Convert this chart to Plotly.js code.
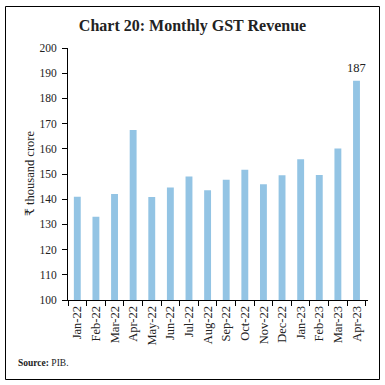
<!DOCTYPE html>
<html>
<head>
<meta charset="utf-8">
<script src="https://cdn.plot.ly/plotly-3.0.1.min.js"></script>
<style>
html,body{margin:0;padding:0;background:#fff;}
#chart{width:385px;height:385px;}
</style>
</head>
<body>
<div id="chart"></div>
<script>
const months = ["Jan-22","Feb-22","Mar-22","Apr-22","May-22","Jun-22","Jul-22","Aug-22","Sep-22","Oct-22","Nov-22","Dec-22","Jan-23","Feb-23","Mar-23","Apr-23"];
const revenue = [141.0,133.0,142.1,167.5,140.9,144.6,149.0,143.6,147.7,151.7,145.9,149.5,155.9,149.6,160.1,187.0];
const highlightIndex = 15;
const highlightLabel = "187";
const yTitle = "₹ thousand crore";

const serif = "Liberation Serif, DejaVu Serif, serif";

const trace = {
  type: "bar",
  x: months,
  y: revenue,
  marker: {color: "#93C4E4"},
  hoverinfo: "skip"
};

const layout = {
  width: 385, height: 385,
  margin: {l: 68, r: 17, t: 48, b: 85},
  paper_bgcolor: "#fff", plot_bgcolor: "#fff",
  bargap: 0.63,
  showlegend: false,
  font: {family: serif, color: "#222"},
  title: {
    text: "<b>Chart 20: Monthly GST Revenue</b>",
    font: {family: serif, size: 16, color: "#222"},
    x: 0.5, xanchor: "center", y: 0.935, yanchor: "middle"
  },
  xaxis: {
    type: "category",
    showline: true, linecolor: "#000", linewidth: 1,
    ticks: "outside", ticklen: 5, tickcolor: "#000",
    tickson: "boundaries",
    tickangle: -90,
    tickfont: {family: serif, size: 12.5, color: "#222"},
    showgrid: false, zeroline: false
  },
  yaxis: {
    range: [100, 200],
    dtick: 10,
    showline: true, linecolor: "#000", linewidth: 1,
    ticks: "outside", ticklen: 5, tickcolor: "#000",
    ticklabelstandoff: 3,
    tickfont: {family: serif, size: 11.5, color: "#222"},
    showgrid: false, zeroline: false
  },
  annotations: [
    {
      x: months[highlightIndex], y: revenue[highlightIndex],
      xref: "x", yref: "y",
      text: highlightLabel, showarrow: false,
      yanchor: "bottom", yshift: 4,
      font: {family: serif, size: 12.5, color: "#222"}
    },
    {
      x: (30 - 68) / 300, y: 0.5, xref: "paper", yref: "paper",
      xanchor: "center", yanchor: "middle", textangle: -90,
      text: yTitle, showarrow: false,
      font: {family: serif, size: 12.5, color: "#222"}
    },
    {
      x: -0.173, y: -0.25, xref: "paper", yref: "paper",
      xanchor: "left", yanchor: "middle",
      text: "<b>Source:</b> PIB.", showarrow: false,
      font: {family: serif, size: 9.5, color: "#222"}
    }
  ],
  shapes: [
    {
      type: "rect", xref: "paper", yref: "paper",
      x0: (5.5 - 68) / 300, x1: (379.5 - 68) / 300,
      y0: (300 - 379.5) / 252, y1: (300 - 6.5) / 252,
      line: {color: "#000", width: 1}, fillcolor: "rgba(0,0,0,0)"
    }
  ]
};

Plotly.newPlot("chart", [trace], layout, {staticPlot: true, displayModeBar: false});
</script>
</body>
</html>
